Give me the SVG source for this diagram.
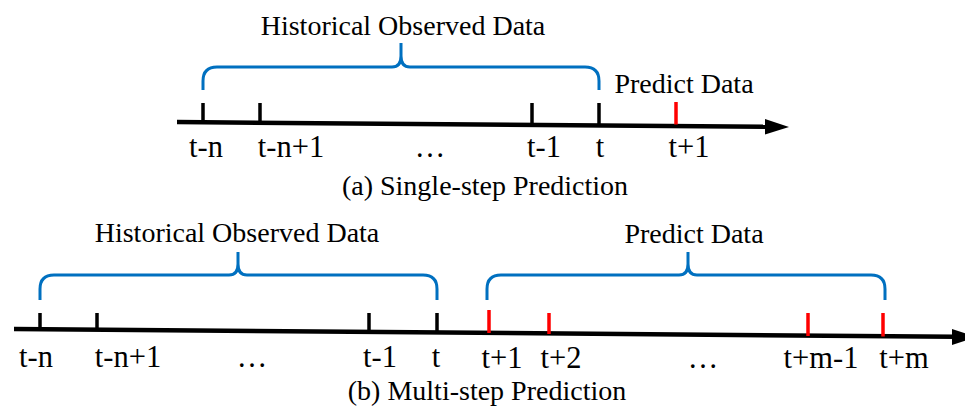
<svg xmlns="http://www.w3.org/2000/svg" width="965" height="408" viewBox="0 0 965 408">
<style>
text{font-family:"Liberation Serif","Times New Roman",serif;font-size:28px;fill:#000;text-anchor:middle}
.lb{font-size:30.5px}
.axis{stroke:#000;stroke-width:4.5;fill:none}
.tk{stroke:#000;stroke-width:3.5}
.rt{stroke:#FF0000;stroke-width:3.5}
.brace{stroke:#0070C0;stroke-width:3;fill:none}
</style>
<rect width="965" height="408" fill="#fff"/>
<g id="connectors">
<line class="axis" x1="177" y1="122" x2="768" y2="126.8"/>
<polygon points="765,119 789,127 765,134.5" fill="#000"/>
<line class="axis" x1="14" y1="329" x2="955" y2="336.8"/>
<polygon points="952,329 977,337 952,345" fill="#000"/>
</g>
<g id="a-ticks">
<line class="tk" x1="203" y1="103" x2="203" y2="122.5"/>
<line class="tk" x1="260" y1="103" x2="260" y2="123"/>
<line class="tk" x1="532" y1="103" x2="532" y2="125"/>
<line class="tk" x1="599" y1="103" x2="599" y2="125.5"/>
<line class="rt" x1="676" y1="102" x2="676" y2="124.5"/>
</g>
<g id="a-brace">
<path class="brace" d="M203,90 V81 Q203,67 217,67 H392 Q401,67 401,56 V43 V56 Q401,67 410,67 H585 Q599,67 599,81 V90"/>
<text x="403" y="35">Historical Observed Data</text>
</g>
<g id="a-predict"><text x="684" y="93">Predict Data</text></g>
<g id="a-labels">
<text class="lb" x="206" y="157">t-n</text>
<text class="lb" x="291" y="157">t-n+1</text>
<text class="lb" x="430" y="157">…</text>
<text class="lb" x="544" y="157">t-1</text>
<text class="lb" x="600" y="157">t</text>
<text class="lb" x="689" y="157">t+1</text>
<text x="485" y="195">(a) Single-step Prediction</text>
</g>
<g id="b-ticks">
<line class="tk" x1="40" y1="313" x2="40" y2="330"/>
<line class="tk" x1="97" y1="313" x2="97" y2="330.5"/>
<line class="tk" x1="369" y1="313" x2="369" y2="332.5"/>
<line class="tk" x1="437" y1="313" x2="437" y2="333"/>
<line class="rt" x1="489" y1="310" x2="489" y2="333"/>
<line class="rt" x1="549" y1="313" x2="549" y2="334"/>
<line class="rt" x1="808" y1="313" x2="808" y2="336"/>
<line class="rt" x1="883" y1="313" x2="883" y2="336.5"/>
</g>
<g id="b-brace-hist">
<path class="brace" d="M40,300 V289 Q40,275 54,275 H229 Q238,275 238,264 V252 V264 Q238,275 247,275 H423 Q437,275 437,289 V300"/>
<text x="237" y="242">Historical Observed Data</text>
</g>
<g id="b-brace-pred">
<path class="brace" d="M487,300 V289 Q487,275 501,275 H679 Q688,275 688,264 V252 V264 Q688,275 697,275 H871 Q885,275 885,289 V300"/>
<text x="694" y="243">Predict Data</text>
</g>
<g id="b-labels">
<text class="lb" x="36" y="367">t-n</text>
<text class="lb" x="128" y="367">t-n+1</text>
<text class="lb" x="252" y="367">…</text>
<text class="lb" x="380" y="367">t-1</text>
<text class="lb" x="436" y="367">t</text>
<text class="lb" x="502" y="368">t+1</text>
<text class="lb" x="561" y="368">t+2</text>
<text class="lb" x="703" y="368">…</text>
<text class="lb" x="821" y="368">t+m-1</text>
<text class="lb" x="904" y="368">t+m</text>
<text x="487" y="400">(b) Multi-step Prediction</text>
</g>
</svg>
